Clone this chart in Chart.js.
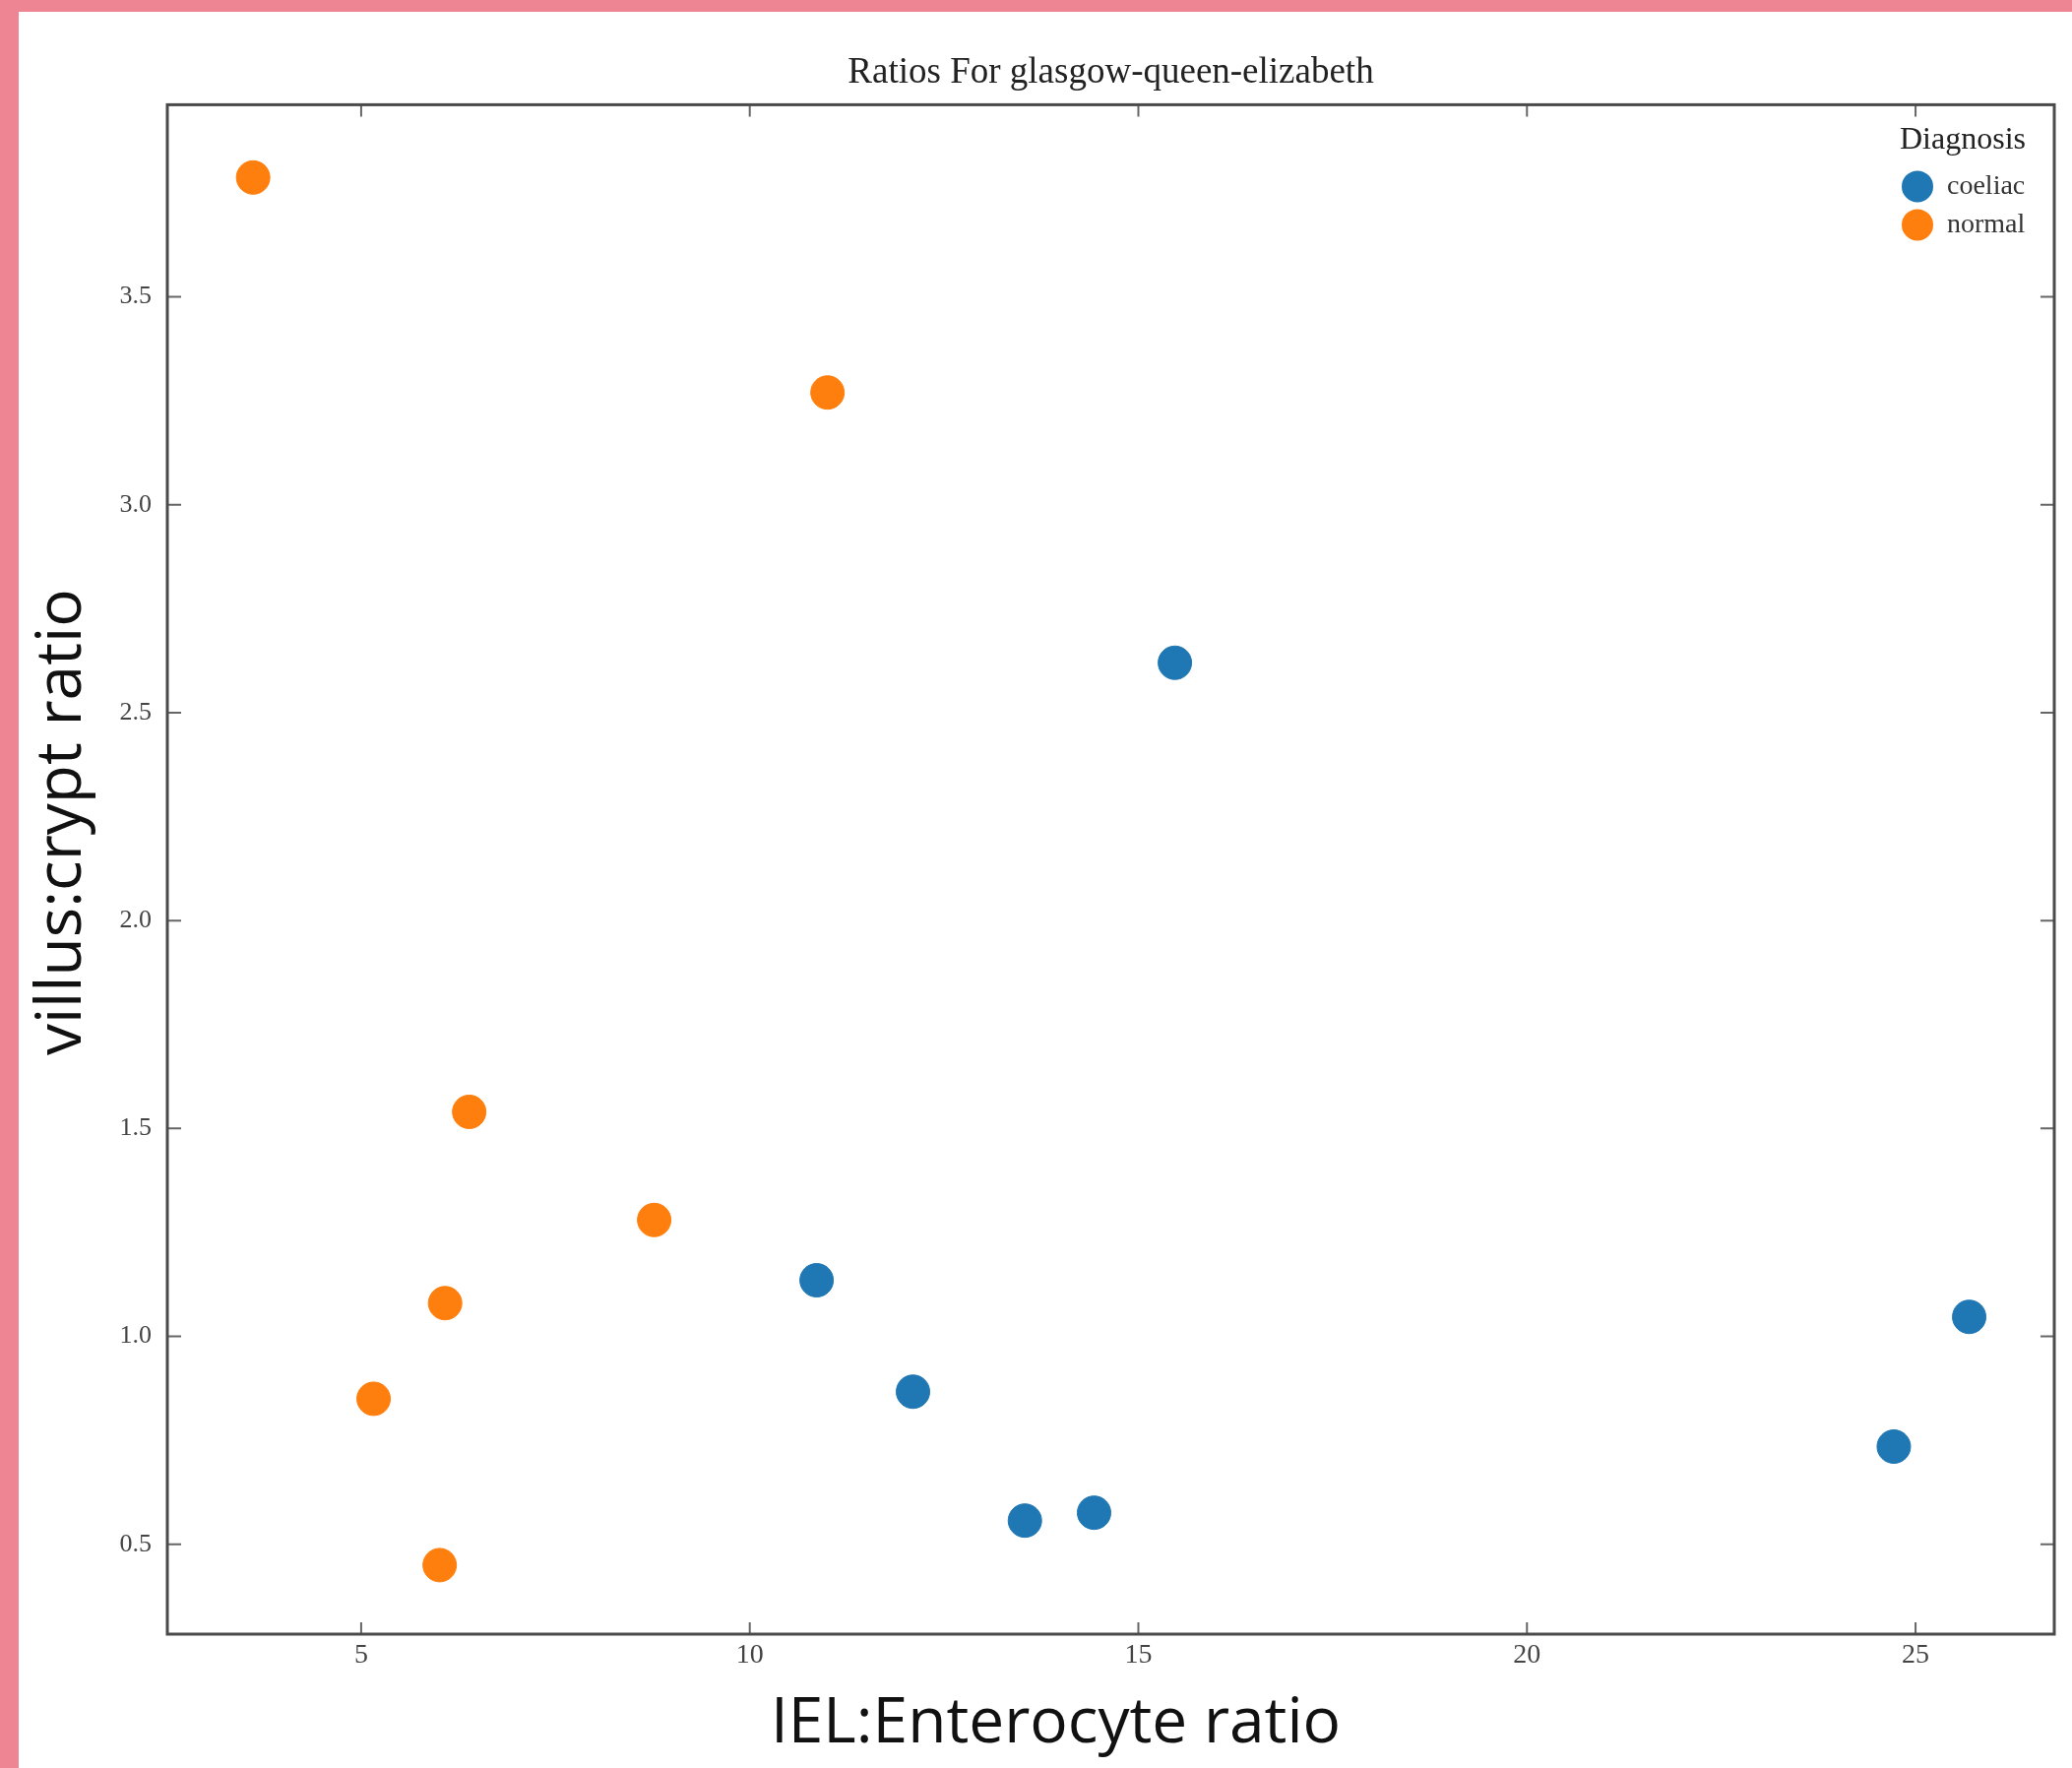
<!DOCTYPE html>
<html>
<head>
<meta charset="utf-8">
<script src="https://cdn.jsdelivr.net/npm/chart.js@4.4.1/dist/chart.umd.min.js"></script>
<style>
  body { margin: 0; background: #ee8593; width: 2105px; height: 1796px; overflow: hidden; }
  #wrap { position: absolute; left: 19px; top: 12px; width: 2086px; height: 1784px; background: #fff; }
</style>
</head>
<body>
<div id="wrap"><canvas id="myChart" width="2086" height="1784"></canvas></div>
<script>
let coeliacX = [15.47, 10.86, 12.1, 13.54, 14.43, 24.72, 25.69]
let coeliacY = [2.62, 1.135, 0.867, 0.557, 0.576, 0.735, 1.047]
let normalX = [3.61, 11.0, 6.39, 8.77, 6.08, 5.16, 6.01]
let normalY = [3.787, 3.27, 1.54, 1.28, 1.08, 0.85, 0.45]
let xTicks = [5, 10, 15, 20, 25]
let yTicks = [0.5, 1.0, 1.5, 2.0, 2.5, 3.0, 3.5]
let xTitle = 'IEL:Enterocyte ratio'
let yTitle = 'villus:crypt ratio'

const serif = "'Liberation Serif', 'DejaVu Serif', serif"

// ticks pointing inwards on all four sides, plus the frame
const frame = {
    id: 'frame',
    afterDatasetsDraw(chart) {
        const {ctx, chartArea: a, scales} = chart
        ctx.save()
        ctx.strokeStyle = '#666'
        ctx.lineWidth = 2
        xTicks.forEach(v => {
            let px = scales.x.getPixelForValue(v)
            ctx.beginPath()
            ctx.moveTo(px, a.bottom); ctx.lineTo(px, a.bottom - 12)
            ctx.moveTo(px, a.top); ctx.lineTo(px, a.top + 12)
            ctx.stroke()
        })
        yTicks.forEach(v => {
            let py = scales.y.getPixelForValue(v)
            ctx.beginPath()
            ctx.moveTo(a.left, py); ctx.lineTo(a.left + 14, py)
            ctx.moveTo(a.right, py); ctx.lineTo(a.right - 14, py)
            ctx.stroke()
        })
        ctx.strokeStyle = '#4a4a4a'
        ctx.lineWidth = 3
        ctx.strokeRect(a.left, a.top, a.right - a.left, a.bottom - a.top)
        ctx.restore()
    }
}

// axis titles, sitting a little off centre like in the original
const axisTitles = {
    id: 'axisTitles',
    afterDraw(chart) {
        const {ctx, chartArea: a} = chart
        const cx = (a.left + a.right) / 2
        const cy = (a.top + a.bottom) / 2
        ctx.save()
        ctx.fillStyle = '#111'
        ctx.font = "64px 'Open Sans'"
        ctx.textAlign = 'center'
        ctx.textBaseline = 'middle'
        ctx.fillText(xTitle, cx - 56, a.bottom + 92)
        ctx.translate(45, cy - 48)
        ctx.rotate(-Math.PI / 2)
        ctx.fillText(yTitle, 0, 0)
        ctx.restore()
    }
}

// legend drawn inside the top right corner of the plot
const innerLegend = {
    id: 'innerLegend',
    afterDraw(chart) {
        const {ctx, chartArea: a} = chart
        ctx.save()
        ctx.fillStyle = '#222'
        ctx.textBaseline = 'middle'
        ctx.textAlign = 'center'
        ctx.font = '32px ' + serif
        ctx.fillText('Diagnosis', a.right - 93, a.top + 36)
        chart.data.datasets.forEach((ds, i) => {
            let y = a.top + 83 + i * 39
            ctx.beginPath()
            ctx.arc(a.right - 139, y, 16, 0, Math.PI * 2)
            ctx.fillStyle = ds.backgroundColor
            ctx.fill()
            ctx.fillStyle = '#333'
            ctx.textAlign = 'left'
            ctx.font = '28px ' + serif
            ctx.fillText(ds.label, a.right - 109, y)
        })
        ctx.restore()
    }
}

let myChart = document.getElementById('myChart').getContext('2d')

let scatterChart = new Chart(myChart, {
    type: 'scatter',
    data: {
        datasets: [{
            label: 'coeliac',
            data: coeliacX.map((x, i) => ({x: x, y: coeliacY[i]})),
            backgroundColor: '#1f77b4',
            borderColor: '#1f77b4',
            pointRadius: 17,
            pointHoverRadius: 17
        },{
            label: 'normal',
            data: normalX.map((x, i) => ({x: x, y: normalY[i]})),
            backgroundColor: '#ff7f0e',
            borderColor: '#ff7f0e',
            pointRadius: 17,
            pointHoverRadius: 17
        }]
    },
    options: {
        responsive: false,
        animation: false,
        layout: { padding: { left: 0, right: 17, top: 0, bottom: 0 } },
        plugins: {
            legend: { display: false },
            tooltip: { enabled: false },
            title: {
                display: true,
                fullSize: false,
                text: 'Ratios For glasgow-queen-elizabeth',
                color: '#222',
                font: { family: serif, size: 37, weight: 'normal' },
                padding: { top: 40, bottom: 10 }
            }
        },
        scales: {
            x: {
                type: 'linear',
                min: 2.506,
                max: 26.785,
                afterBuildTicks: s => { s.ticks = xTicks.map(v => ({value: v})) },
                afterFit: s => { s.height = 136 },
                grid: { display: false, drawTicks: false },
                border: { display: false },
                ticks: {
                    padding: 5,
                    color: '#444',
                    font: { family: serif, size: 28 },
                    callback: v => String(v)
                }
            },
            y: {
                type: 'linear',
                min: 0.284,
                max: 3.962,
                afterBuildTicks: s => { s.ticks = yTicks.map(v => ({value: v})) },
                afterFit: s => { s.width = 151 },
                grid: { display: false, drawTicks: false },
                border: { display: false },
                ticks: {
                    padding: 16,
                    color: '#444',
                    font: { family: serif, size: 26 },
                    callback: v => v.toFixed(1)
                }
            }
        }
    },
    plugins: [frame, axisTitles, innerLegend]
})
</script>
</body>
</html>
